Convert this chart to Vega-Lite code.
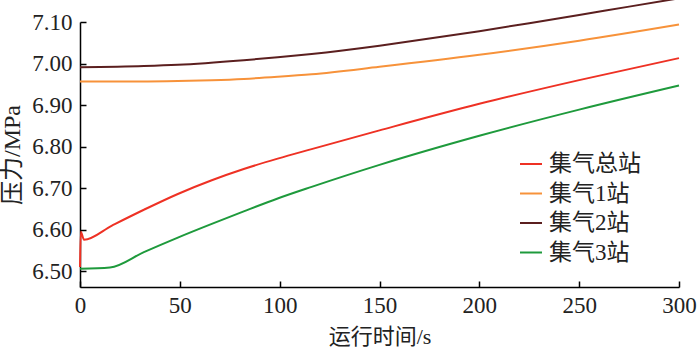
{
  "$schema": "https://vega.github.io/schema/vega-lite/v6.json",
  "width": 599,
  "height": 265,
  "autosize": {"type": "none"},
  "padding": {"left": 80, "top": 22, "right": 21, "bottom": 68},
  "background": "white",
  "config": {
    "view": {"stroke": null},
    "font": "Liberation Serif",
    "axis": {
      "grid": false,
      "domainColor": "black",
      "domainWidth": 1.5,
      "tickColor": "black",
      "tickWidth": 1.5,
      "tickSize": -6,
      "labelFont": "Liberation Serif",
      "labelFontSize": 23,
      "labelColor": "#222",
      "titleFont": "Liberation Serif, Noto Sans CJK SC",
      "titleFontWeight": "normal",
      "titleColor": "#222",
      "labelOverlap": false,
      "labelBound": false,
      "labelFlush": false
    },
    "legend": {
      "labelFont": "Liberation Serif, Noto Sans CJK SC",
      "labelFontSize": 23,
      "labelColor": "#222"
    }
  },
  "data": {
    "values": [
      {"t": 0, "p": 6.51, "s": "集气总站"},
      {"t": 0.4, "p": 6.595, "s": "集气总站"},
      {"t": 2, "p": 6.576, "s": "集气总站"},
      {"t": 16, "p": 6.61, "s": "集气总站"},
      {"t": 32, "p": 6.648, "s": "集气总站"},
      {"t": 49, "p": 6.686, "s": "集气总站"},
      {"t": 66, "p": 6.719, "s": "集气总站"},
      {"t": 82, "p": 6.746, "s": "集气总站"},
      {"t": 99, "p": 6.771, "s": "集气总站"},
      {"t": 116, "p": 6.794, "s": "集气总站"},
      {"t": 150, "p": 6.839, "s": "集气总站"},
      {"t": 200, "p": 6.903, "s": "集气总站"},
      {"t": 250, "p": 6.96, "s": "集气总站"},
      {"t": 300, "p": 7.013, "s": "集气总站"},

      {"t": 0, "p": 6.957, "s": "集气1站"},
      {"t": 30, "p": 6.957, "s": "集气1站"},
      {"t": 49, "p": 6.958, "s": "集气1站"},
      {"t": 66, "p": 6.96, "s": "集气1站"},
      {"t": 82, "p": 6.963, "s": "集气1站"},
      {"t": 99, "p": 6.968, "s": "集气1站"},
      {"t": 116, "p": 6.974, "s": "集气1站"},
      {"t": 150, "p": 6.992, "s": "集气1站"},
      {"t": 200, "p": 7.021, "s": "集气1站"},
      {"t": 250, "p": 7.055, "s": "集气1站"},
      {"t": 300, "p": 7.094, "s": "集气1站"},

      {"t": 0, "p": 6.991, "s": "集气2站"},
      {"t": 32, "p": 6.994, "s": "集气2站"},
      {"t": 49, "p": 6.997, "s": "集气2站"},
      {"t": 82, "p": 7.008, "s": "集气2站"},
      {"t": 99, "p": 7.015, "s": "集气2站"},
      {"t": 116, "p": 7.023, "s": "集气2站"},
      {"t": 150, "p": 7.043, "s": "集气2站"},
      {"t": 175, "p": 7.06, "s": "集气2站"},
      {"t": 200, "p": 7.078, "s": "集气2站"},
      {"t": 225, "p": 7.097, "s": "集气2站"},
      {"t": 250, "p": 7.117, "s": "集气2站"},
      {"t": 275, "p": 7.137, "s": "集气2站"},
      {"t": 300, "p": 7.157, "s": "集气2站"},

      {"t": 0, "p": 6.506, "s": "集气3站"},
      {"t": 15, "p": 6.509, "s": "集气3站"},
      {"t": 32, "p": 6.546, "s": "集气3站"},
      {"t": 49, "p": 6.581, "s": "集气3站"},
      {"t": 66, "p": 6.614, "s": "集气3站"},
      {"t": 82, "p": 6.644, "s": "集气3站"},
      {"t": 99, "p": 6.675, "s": "集气3站"},
      {"t": 116, "p": 6.703, "s": "集气3站"},
      {"t": 150, "p": 6.756, "s": "集气3站"},
      {"t": 200, "p": 6.826, "s": "集气3站"},
      {"t": 250, "p": 6.889, "s": "集气3站"},
      {"t": 300, "p": 6.947, "s": "集气3站"}
    ]
  },
  "mark": {"type": "line", "strokeWidth": 2, "interpolate": "monotone"},
  "encoding": {
    "x": {
      "field": "t",
      "type": "quantitative",
      "scale": {"domain": [0, 300], "nice": false},
      "axis": {"values": [0, 50, 100, 150, 200, 250, 300], "title": "运行时间/s", "labelPadding": 13, "titlePadding": 9, "titleFontSize": 22}
    },
    "y": {
      "field": "p",
      "type": "quantitative",
      "scale": {"domain": [6.462, 7.1], "nice": false, "zero": false},
      "axis": {"values": [6.5, 6.6, 6.7, 6.8, 6.9, 7.0, 7.1], "format": ".2f", "title": "压力/MPa", "labelPadding": 14, "titlePadding": 7, "titleFontSize": 24}
    },
    "color": {
      "field": "s",
      "type": "nominal",
      "sort": ["集气总站", "集气1站", "集气2站", "集气3站"],
      "scale": {
        "domain": ["集气总站", "集气1站", "集气2站", "集气3站"],
        "range": ["#ee3124", "#f7923a", "#5b1f1f", "#1e9a3c"]
      },
      "legend": {
        "title": null,
        "orient": "none",
        "legendX": 439,
        "legendY": 130,
        "symbolType": "stroke",
        "symbolSize": 484,
        "symbolStrokeWidth": 2,
        "labelOffset": 6,
        "rowPadding": 5.5,
        "padding": 0
      }
    }
  }
}
